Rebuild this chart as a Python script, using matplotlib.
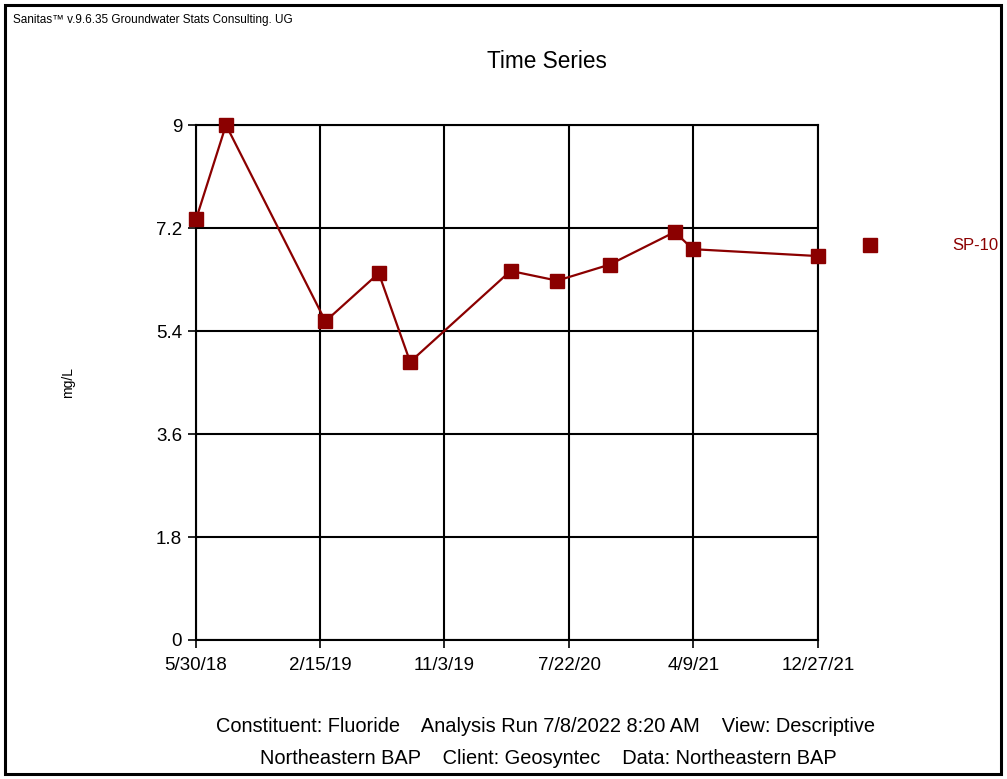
import matplotlib
matplotlib.use("Agg")
import matplotlib.pyplot as plt
from matplotlib.patches import Rectangle
import pandas as pd

plt.rcParams['font.family'] = ['Liberation Sans', 'DejaVu Sans']

# sample dates and fluoride values (mg/L) for SP-10
dates = ["2018-05-30", "2018-08-01", "2019-02-26", "2019-06-18", "2019-08-23",
         "2020-03-21", "2020-06-27", "2020-10-15", "2021-03-01", "2021-04-08",
         "2021-12-26"]
values = [7.35, 9.0, 5.57, 6.41, 4.86, 6.45, 6.28, 6.56, 7.13, 6.83, 6.71]

tick_dates = ["2018-05-30", "2019-02-15", "2019-11-03", "2020-07-22", "2021-04-09", "2021-12-27"]
tick_labels = ["5/30/18", "2/15/19", "11/3/19", "7/22/20", "4/9/21", "12/27/21"]
y_ticks = [0, 1.8, 3.6, 5.4, 7.2, 9]
y_labels = ["0", "1.8", "3.6", "5.4", "7.2", "9"]

series_name = "SP-10"
red = "#8b0000"

W, H = 1007, 779
fig = plt.figure(figsize=(W / 100, H / 100), dpi=100)
ax = fig.add_axes([196 / W, 1 - 640 / H, (818 - 196) / W, (640 - 125) / H])

x = pd.to_datetime(dates)
ax.plot(x, values, color=red, lw=1.6, marker="s", markersize=9.5,
        markerfacecolor=red, markeredgecolor=red, clip_on=False,
        label=series_name, zorder=3)

ticks = pd.to_datetime(tick_dates)
ax.set_xlim(ticks[0], ticks[-1])
ax.set_xticks(ticks)
ax.set_xticklabels(tick_labels)
ax.set_ylim(0, 9)
ax.set_yticks(y_ticks)
ax.set_yticklabels(y_labels)

ax.grid(True, color="black", lw=1.5)
for s in ax.spines.values():
    s.set_color("black")
    s.set_linewidth(1.5)
ax.tick_params(axis="both", direction="out", length=6, width=1.2, labelsize=13.5,
               colors="black", pad=4)
ax.tick_params(axis="x", pad=6)

ax.set_ylabel("mg/L", fontsize=10)
ax.yaxis.set_label_coords((75 - 196) / (818 - 196), 0.5)

fig.text(547 / W, 1 - 61 / H, "Time Series", fontsize=16.3, ha="center", va="center")
fig.text(13 / W, 1 - 20 / H, "Sanitas\u2122 v.9.6.35 Groundwater Stats Consulting. UG",
         fontsize=8.5, ha="left", va="center")

fig.text(546 / W, 1 - 726 / H,
         "Constituent: Fluoride    Analysis Run 7/8/2022 8:20 AM    View: Descriptive",
         fontsize=14.4, ha="center", va="center")
fig.text(548 / W, 1 - 759 / H,
         "Northeastern BAP    Client: Geosyntec    Data: Northeastern BAP",
         fontsize=14.4, ha="center", va="center")

leg = fig.legend(loc="center left", bbox_to_anchor=(862 / W, 1 - 246 / H),
                 frameon=False, handlelength=1, handletextpad=4.4, borderpad=0,
                 borderaxespad=0, fontsize=12, labelcolor=red)
for h in leg.legend_handles:
    h.set_linestyle("none")

fig.patches.append(Rectangle((5 / W, 1 - 774 / H), (1001 - 5) / W, (774 - 5) / H,
                             transform=fig.transFigure, fill=False,
                             edgecolor="black", lw=2.2))

fig.savefig("out.png", dpi=100)
